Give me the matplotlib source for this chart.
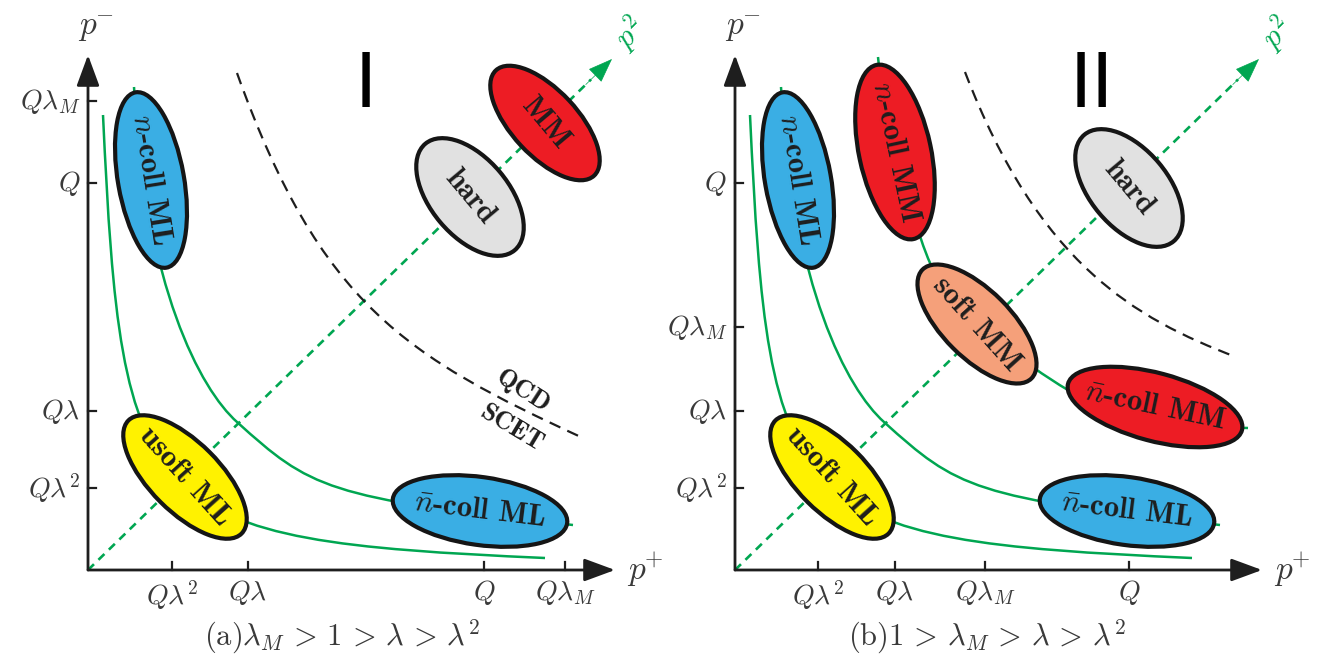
import matplotlib
matplotlib.use('Agg')
import matplotlib.pyplot as plt
from matplotlib.patches import Ellipse, PathPatch
from matplotlib.path import Path

plt.rcParams['mathtext.fontset'] = 'cm'
plt.rcParams['lines.scale_dashes'] = False

GREEN = '#00a651'
INK = '#1e1e1e'
TICK_GRAY = '#3a3a3a'
BLUE, RED, YELLOW, SALMON, GRAY = '#3aaee4', '#ed1c24', '#fff200', '#f5a07a', '#e1e1e1'

# everything below is in picture pixels (x right, y down)
PANEL_SHIFT = 647

# panel (a) frame
origin_a = (88, 570)
ytip_a = (88, 55)
xtip_a = (615, 570)
diag_tip_a = (612, 59)

ytick_labels_a = [r'$Q\lambda_M$', r'$Q$', r'$Q\lambda$', r'$Q\lambda^2$']
ytick_pos_a = [101, 183, 411, 488]
xtick_labels_a = [r'$Q\lambda^2$', r'$Q\lambda$', r'$Q$', r'$Q\lambda_M$']
xtick_pos_a = [172, 248, 484, 565]

ytick_labels_b = [r'$Q$', r'$Q\lambda_M$', r'$Q\lambda$', r'$Q\lambda^2$']
ytick_pos_b = [183, 327, 411, 488]
xtick_labels_b = [r'$Q\lambda^2$', r'$Q\lambda$', r'$Q\lambda_M$', r'$Q$']
xtick_pos_b = [818, 895, 985, 1129]

# bezier control points of the curves (panel a; b reuses the two ML curves)
inner_curve = [(103, 115), (122, 518), (139, 540), (545, 558)]
outer_curve = [(134, 87), (146, 287), (200, 389), (237, 422),
               (310, 488), (326, 498), (573, 525)]
mm_curve_b = [(878, 57), (885, 127), (920, 245), (932, 267),
              (955, 311), (1025, 365), (1068, 390),
              (1111, 415), (1168, 426), (1248, 428)]
qcd_line_a = [(237, 73), (320, 305), (407, 357), (583, 438)]
qcd_line_b = [(965, 72), (1039, 264), (1134, 318), (1236, 357)]

# regions: label, centre, (major, minor), axis angle, text angle, colour
labels_a = [r'$n$-coll ML', 'MM', 'hard', 'usoft ML', r'$\bar{n}$-coll ML']
centers_a = [(151, 180), (545, 123), (470, 197), (185, 477), (480, 511)]
sizes_a = [(178, 66), (144, 66), (139, 78), (160, 70), (176, 68)]
angles_a = [80, 47, 50, 45, 8]
text_rot_a = [-81, -50, -50, -48, -7]
colors_a = [BLUE, RED, GRAY, YELLOW, BLUE]

labels_b = [r'$n$-coll ML', r'$n$-coll MM', 'soft MM', 'hard', r'$\bar{n}$-coll MM',
            'usoft ML', r'$\bar{n}$-coll ML']
centers_b = [(798, 180), (895, 152), (977, 324), (1129, 188), (1155, 407),
             (832, 477), (1127, 511)]
sizes_b = [(178, 66), (178, 72), (154, 68), (139, 78), (180, 68), (160, 70), (176, 68)]
angles_b = [80, 78, 45, 50, 15, 45, 8]
text_rot_b = [-81, -78, -48, -50, -12, -48, -7]
colors_b = [BLUE, RED, SALMON, GRAY, RED, YELLOW, BLUE]

captions = [r'(a)$\lambda_M\,>\,1\,>\,\lambda\,>\,\lambda^2$',
            r'(b)$1\,>\,\lambda_M\,>\,\lambda\,>\,\lambda^2$']
caption_x = [342, 987]
numerals = ['I', 'II']
numeral_x = [366, 1092]


def bezier(ax, pts, **kw):
    codes = [Path.MOVETO] + [Path.CURVE4] * (len(pts) - 1)
    ax.add_patch(PathPatch(Path(pts, codes), fill=False, **kw))


def shift(p, dx):
    return (p[0] + dx, p[1])


def draw_frame(ax, dx):
    o = shift(origin_a, dx)
    for tip in (shift(ytip_a, dx), shift(xtip_a, dx)):
        ax.annotate('', xy=tip, xytext=o, zorder=6,
                    arrowprops=dict(arrowstyle='-|>,head_length=1.9,head_width=0.7',
                                    lw=2.0, color=INK, shrinkA=0, shrinkB=0))
    # dashed green p^2 diagonal with a solid head
    tip = shift(diag_tip_a, dx)
    vx, vy = tip[0] - o[0], tip[1] - o[1]
    ax.plot([o[0], o[0] + 0.96 * vx], [o[1], o[1] + 0.96 * vy], color=GREEN,
            lw=1.9, dashes=(6, 4.5), zorder=1)
    ax.annotate('', xy=tip, xytext=(o[0] + 0.95 * vx, o[1] + 0.95 * vy), zorder=2,
                arrowprops=dict(arrowstyle='-|>,head_length=1.6,head_width=0.6',
                                lw=0.5, color=GREEN, shrinkA=0, shrinkB=0))
    ax.text(tip[0] + 18, tip[1] - 26, r'$p^2$', color=GREEN, fontsize=22,
            rotation=45, ha='center', va='center')
    ax.text(96 + dx, 28, r'$p^{\!\!-}$', color=TICK_GRAY, fontsize=24, ha='center', va='center')
    ax.text(645 + dx, 570, r'$p^{\!\!+}$', color=TICK_GRAY, fontsize=24, ha='center', va='center')


def draw_ticks(ax, dx, ylabels, ypos, xlabels, xpos):
    x0, y0 = origin_a[0] + dx, origin_a[1]
    for lab, y in zip(ylabels, ypos):
        ax.plot([x0, x0 + 8], [y, y], color=INK, lw=1.6, zorder=6)
        ax.text(x0 - 8, y, lab, fontsize=20, color=TICK_GRAY, ha='right', va='center')
    for lab, x in zip(xlabels, xpos):
        ax.plot([x, x], [y0, y0 - 8], color=INK, lw=1.6, zorder=6)
        ax.text(x, y0 + 8, lab, fontsize=20, color=TICK_GRAY, ha='center', va='top')


def draw_regions(ax, labels, centers, sizes, angles, rots, colors):
    for lab, c, s, ang, rot, col in zip(labels, centers, sizes, angles, rots, colors):
        ax.add_patch(Ellipse(c, s[0], s[1], angle=ang, facecolor=col,
                             edgecolor='#151515', lw=3.0, zorder=3))
        ax.text(c[0], c[1], lab, fontsize=22, fontfamily=['cmb10', 'DejaVu Sans'],
                color=INK, rotation=rot, rotation_mode='anchor',
                ha='center', va='center', zorder=4)


fig = plt.figure(figsize=(13.23, 6.56), dpi=100)
ax = fig.add_axes([0, 0, 1, 1])
ax.set_xlim(0, 1323)
ax.set_ylim(656, 0)
ax.axis('off')

for dx in (0, PANEL_SHIFT):
    draw_frame(ax, dx)
    bezier(ax, [shift(p, dx) for p in inner_curve], edgecolor=GREEN, lw=1.8, zorder=1)
    bezier(ax, [shift(p, dx) for p in outer_curve], edgecolor=GREEN, lw=1.8, zorder=1)

bezier(ax, mm_curve_b, edgecolor=GREEN, lw=1.8, zorder=1)
for pts in (qcd_line_a, qcd_line_b):
    bezier(ax, pts, edgecolor=INK, lw=1.6, zorder=1, linestyle=(0, (8.5, 5.5)))

draw_ticks(ax, 0, ytick_labels_a, ytick_pos_a, xtick_labels_a, xtick_pos_a)
draw_ticks(ax, PANEL_SHIFT, ytick_labels_b, ytick_pos_b, xtick_labels_b, xtick_pos_b)
draw_regions(ax, labels_a, centers_a, sizes_a, angles_a, text_rot_a, colors_a)
draw_regions(ax, labels_b, centers_b, sizes_b, angles_b, text_rot_b, colors_b)

ax.text(523, 391, 'QCD', fontsize=19, fontfamily='cmb10', color=INK, rotation=-33,
        ha='center', va='center', rotation_mode='anchor')
ax.text(512, 428, 'SCET', fontsize=19, fontfamily='cmb10', color=INK, rotation=-31,
        ha='center', va='center', rotation_mode='anchor')

for cap, x in zip(captions, caption_x):
    ax.text(x, 637, cap, fontsize=22, fontfamily='cmr10', color=TICK_GRAY,
            ha='center', va='center')
for num, x in zip(numerals, numeral_x):
    ax.text(x, 107, num, fontsize=54, fontfamily='DejaVu Sans', color='black',
            ha='center', va='baseline')

fig.savefig('out.png', dpi=100)
